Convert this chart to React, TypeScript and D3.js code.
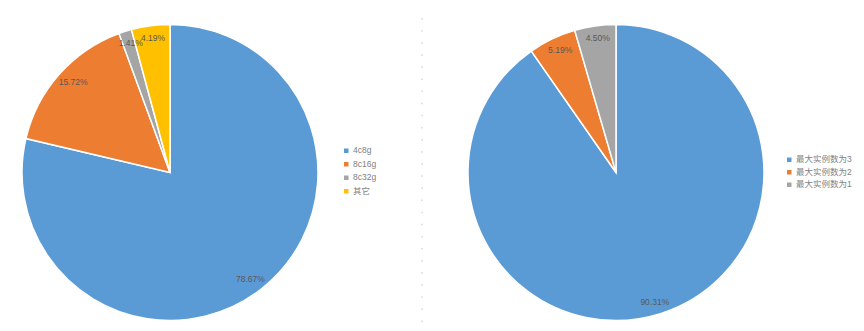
import React from "react";
import * as d3 from "d3";

const leftCategories = ["4c8g", "8c16g", "8c32g", "其它"];
const leftValues = [78.67, 15.72, 1.41, 4.19];
const leftLabels = ["78.67%", "15.72%", "1.41%", "4.19%"];

const rightCategories = ["最大实例数为3", "最大实例数为2", "最大实例数为1"];
const rightValues = [90.31, 5.19, 4.5];
const rightLabels = ["90.31%", "5.19%", "4.50%"];

const leftColors = ["#5B9BD5", "#ED7D31", "#A5A5A5", "#FFC000"];
const rightColors = ["#5B9BD5", "#ED7D31", "#A5A5A5"];

const W = 864;
const H = 331;
const R = 148;

function Pie({ cx, cy, values, labels, colors }: { cx: number; cy: number; values: number[]; labels: string[]; colors: string[] }) {
  const pie = d3.pie<number>().sort(null).value((d) => d)(values);
  const arc = d3.arc<d3.PieArcDatum<number>>().innerRadius(0).outerRadius(R);
  return (
    <g transform={`translate(${cx},${cy})`}>
      {pie.map((p, i) => (
        <path key={i} d={arc(p) || ""} fill={colors[i]} stroke="#fff" strokeWidth={1.5} />
      ))}
      {pie.map((p, i) => {
        const a = (p.startAngle + p.endAngle) / 2;
        const x = Math.sin(a) * R * 0.875;
        const y = -Math.cos(a) * R * 0.92;
        return (
          <text key={"l" + i} x={x} y={y} dy="0.35em" textAnchor="middle" fontSize={8.5} fill="#595959" fontFamily="'Liberation Sans', Arial, sans-serif">
            {labels[i]}
          </text>
        );
      })}
    </g>
  );
}

function Legend({ x, y, step, names, colors }: { x: number; y: number; step: number; names: string[]; colors: string[] }) {
  return (
    <g>
      {names.map((n, i) => (
        <g key={i} transform={`translate(${x},${y + i * step})`}>
          <rect x={-2} y={-2} width={4.5} height={4.5} fill={colors[i]} />
          <text x={7} y={0} dy="0.35em" fontSize={8.5} fill="#7f7f7f" fontFamily="'Liberation Sans', 'Noto Sans CJK SC', sans-serif">
            {n}
          </text>
        </g>
      ))}
    </g>
  );
}

export default function App() {
  const dots = d3.range(18, 322, 12.1);
  return (
    <svg width={W} height={H} style={{ position: "absolute", left: 0, top: 0, background: "#fff" }}>
      <rect width={W} height={H} fill="#fff" />
      {dots.map((d, i) => (
        <rect key={i} x={421.5} y={d} width={1} height={1.6} fill="#c8c8c8" />
      ))}
      <Pie cx={170} cy={172.5} values={leftValues} labels={leftLabels} colors={leftColors} />
      <Pie cx={616} cy={172.5} values={rightValues} labels={rightLabels} colors={rightColors} />
      <Legend x={346} y={150.5} step={13.5} names={leftCategories} colors={leftColors} />
      <Legend x={789} y={159.5} step={12.5} names={rightCategories} colors={rightColors} />
    </svg>
  );
}
